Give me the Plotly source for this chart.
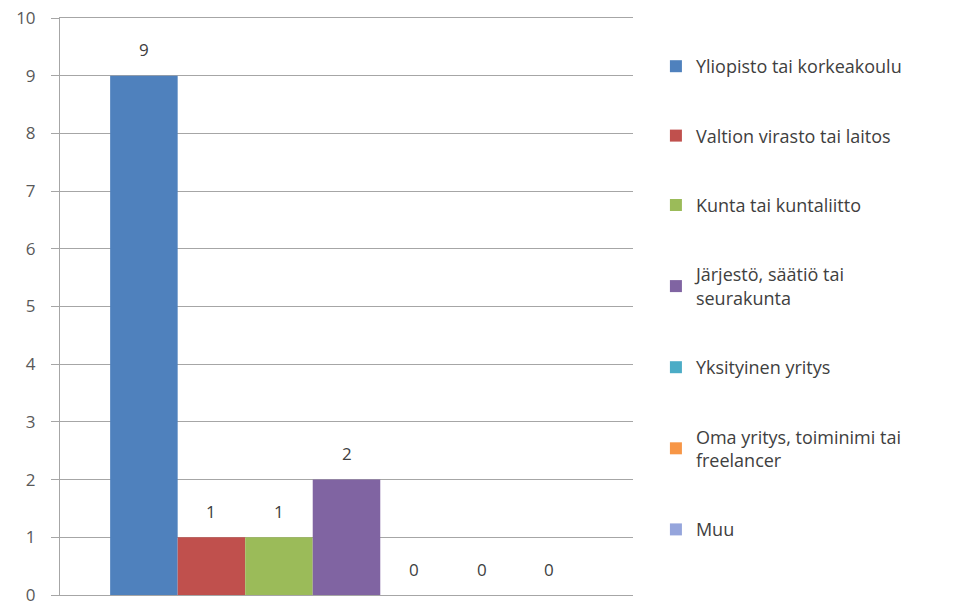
import plotly.graph_objects as go

category_position = [0]
series_names = [
    "Yliopisto tai korkeakoulu",
    "Valtion virasto tai laitos",
    "Kunta tai kuntaliitto",
    "Järjestö, säätiö tai<br>seurakunta",
    "Yksityinen yritys",
    "Oma yritys, toiminimi tai<br>freelancer",
    "Muu",
]
series_values = [9, 1, 1, 2, 0, 0, 0]
series_colors = ["#4F81BD", "#C0504D", "#9BBB59", "#8064A2", "#4BACC6", "#F79646", "#95A5DC"]
y_ticks = list(range(0, 11))

FONT = "'Open Sans', Lato, sans-serif"
BARGAP = 0.175

fig = go.Figure()
n = len(series_values)
w = (1 - BARGAP) / n
for i, (name, val, col) in enumerate(zip(series_names, series_values, series_colors)):
    fig.add_trace(go.Bar(
        x=category_position, y=[val], name=name,
        marker=dict(color=col, line=dict(width=0)),
        legendgroup=f"g{i}",
        hoverinfo="name+y",
    ))
    # data label above each bar, positioned at the bar centre in data coordinates
    fig.add_annotation(
        x=category_position[0] - (1 - BARGAP) / 2 + w * (i + 0.5), y=val,
        xref="x", yref="y", text=str(val), showarrow=False,
        yshift=26, font=dict(family=FONT, size=17, color="#404040"),
    )

fig.update_layout(
    width=954, height=605,
    margin=dict(l=60, r=321, t=18, b=10, autoexpand=False),
    barmode="group",
    bargap=BARGAP,
    bargroupgap=0,
    plot_bgcolor="white",
    paper_bgcolor="white",
    font=dict(family=FONT, color="#595959"),
    showlegend=True,
    legend=dict(
        x=1.04, xanchor="left", y=0.948, yanchor="top",
        font=dict(family=FONT, size=18, color="#404040"),
        tracegroupgap=43,
        itemwidth=30,
        bgcolor="rgba(0,0,0,0)",
    ),
)
fig.update_yaxes(
    range=[0, 10], tickvals=y_ticks,
    showgrid=True, gridcolor="#A6A6A6", gridwidth=1,
    showline=True, linecolor="#A6A6A6", linewidth=1,
    ticks="outside", ticklen=8, tickcolor="#A6A6A6",
    tickfont=dict(family=FONT, size=17, color="#595959"),
    ticklabelstandoff=12,
    ticklabeloverflow="allow",
    automargin=False,
    zeroline=False,
)
fig.update_xaxes(
    range=[-0.5, 0.5],
    showline=True, linecolor="#A6A6A6", linewidth=1, mirror=True,
    showticklabels=False, ticks="", showgrid=False, zeroline=False,
    automargin=False,
)

fig.write_html(
    "out.html",
    config={"displayModeBar": False},
    post_script="document.body.style.margin='0';document.body.style.overflow='hidden';",
)
